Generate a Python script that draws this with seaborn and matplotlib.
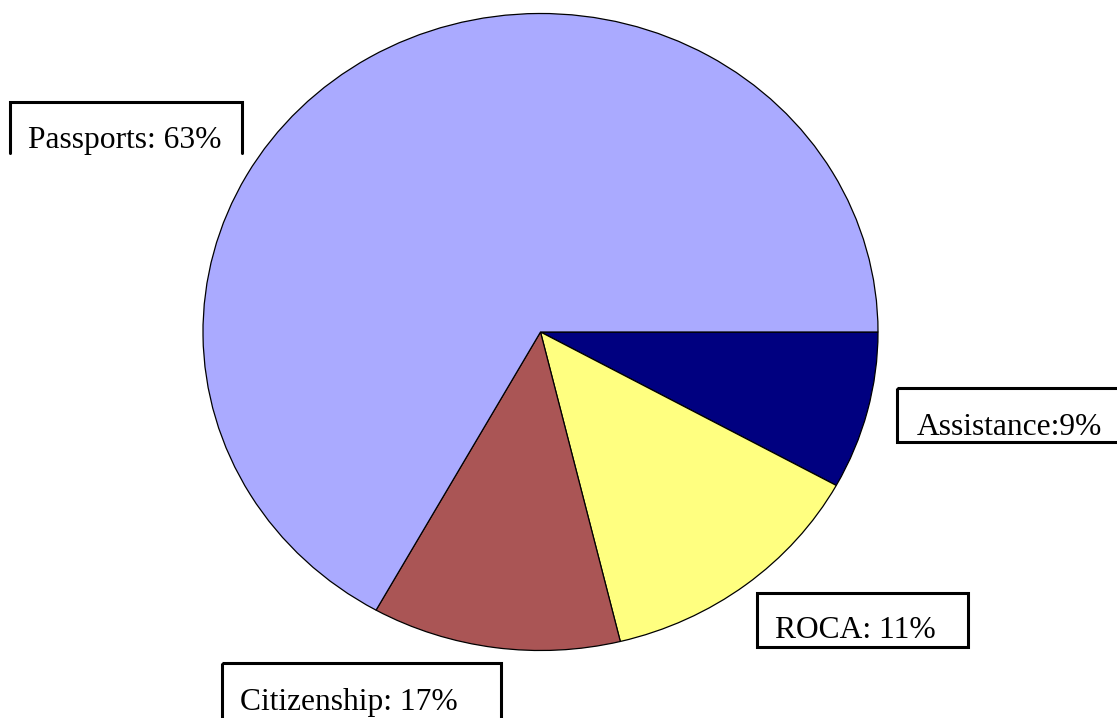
import matplotlib
matplotlib.use("Agg")
import matplotlib.pyplot as plt
import seaborn as sns
from matplotlib.patches import Rectangle
from matplotlib.lines import Line2D

sns.set_theme(style="white")
plt.rcParams['font.family'] = ['Liberation Serif', 'DejaVu Serif']

# Data (slice shares, labels as printed)
categories = ["Assistance", "ROCA", "Citizenship", "Passports"]
shares = [8.0, 13.2, 11.9, 66.9]
label_texts = ["Assistance:9%", "ROCA: 11%", "Citizenship: 17%", "Passports: 63%"]
colors = ["#000080", "#FFFF80", "#AA5555", "#AAAAFF"]

W, H = 1117, 718
fig = plt.figure(figsize=(W / 100, H / 100), dpi=100)
fig.patch.set_facecolor("white")

# pie axes (pixel-calibrated, slightly elliptical)
cx, cy, rx, ry = 540.5, 332.0, 337.5, 318.5
ax = fig.add_axes([0, 0, 1, 1])
ax.pie(shares, colors=colors, startangle=0, counterclock=False,
       wedgeprops=dict(edgecolor="black", linewidth=0.9), radius=1.0)
ax.set_aspect("auto")
ax.set_xlim(-cx / rx, (W - cx) / rx)
ax.set_ylim(-(H - cy) / ry, cy / ry)
ax.axis("off")

# overlay axes in pixel coordinates for the label boxes
ov = fig.add_axes([0, 0, 1, 1], facecolor="none")
ov.set_xlim(0, W)
ov.set_ylim(H, 0)
ov.axis("off")

lw = 2.2
# boxes: (left, top, right, bottom), text x, baseline y
boxes = {
    "Passports": ((10, 102, 242, 153), 28, 148, False),
    "Assistance": ((897, 388, 1125, 442), 917, 435, True),
    "ROCA": ((757, 593, 968, 647), 775, 638, True),
    "Citizenship": ((222, 663, 501, 730), 240, 710, True),
}
for cat, txt in zip(categories, label_texts):
    (l, t, r, b), tx, ty, closed = boxes[cat]
    if closed:
        ov.add_patch(Rectangle((l, t), r - l, b - t, fill=False,
                               edgecolor="black", linewidth=lw, clip_on=False))
    else:
        ov.add_line(Line2D([l, l, r, r], [b, t, t, b], color="black",
                           linewidth=lw, solid_joinstyle="miter"))
    ov.text(tx, ty, txt, fontsize=22.7, color="black", ha="left",
            va="baseline")

fig.savefig("out.png", dpi=100, facecolor="white")
